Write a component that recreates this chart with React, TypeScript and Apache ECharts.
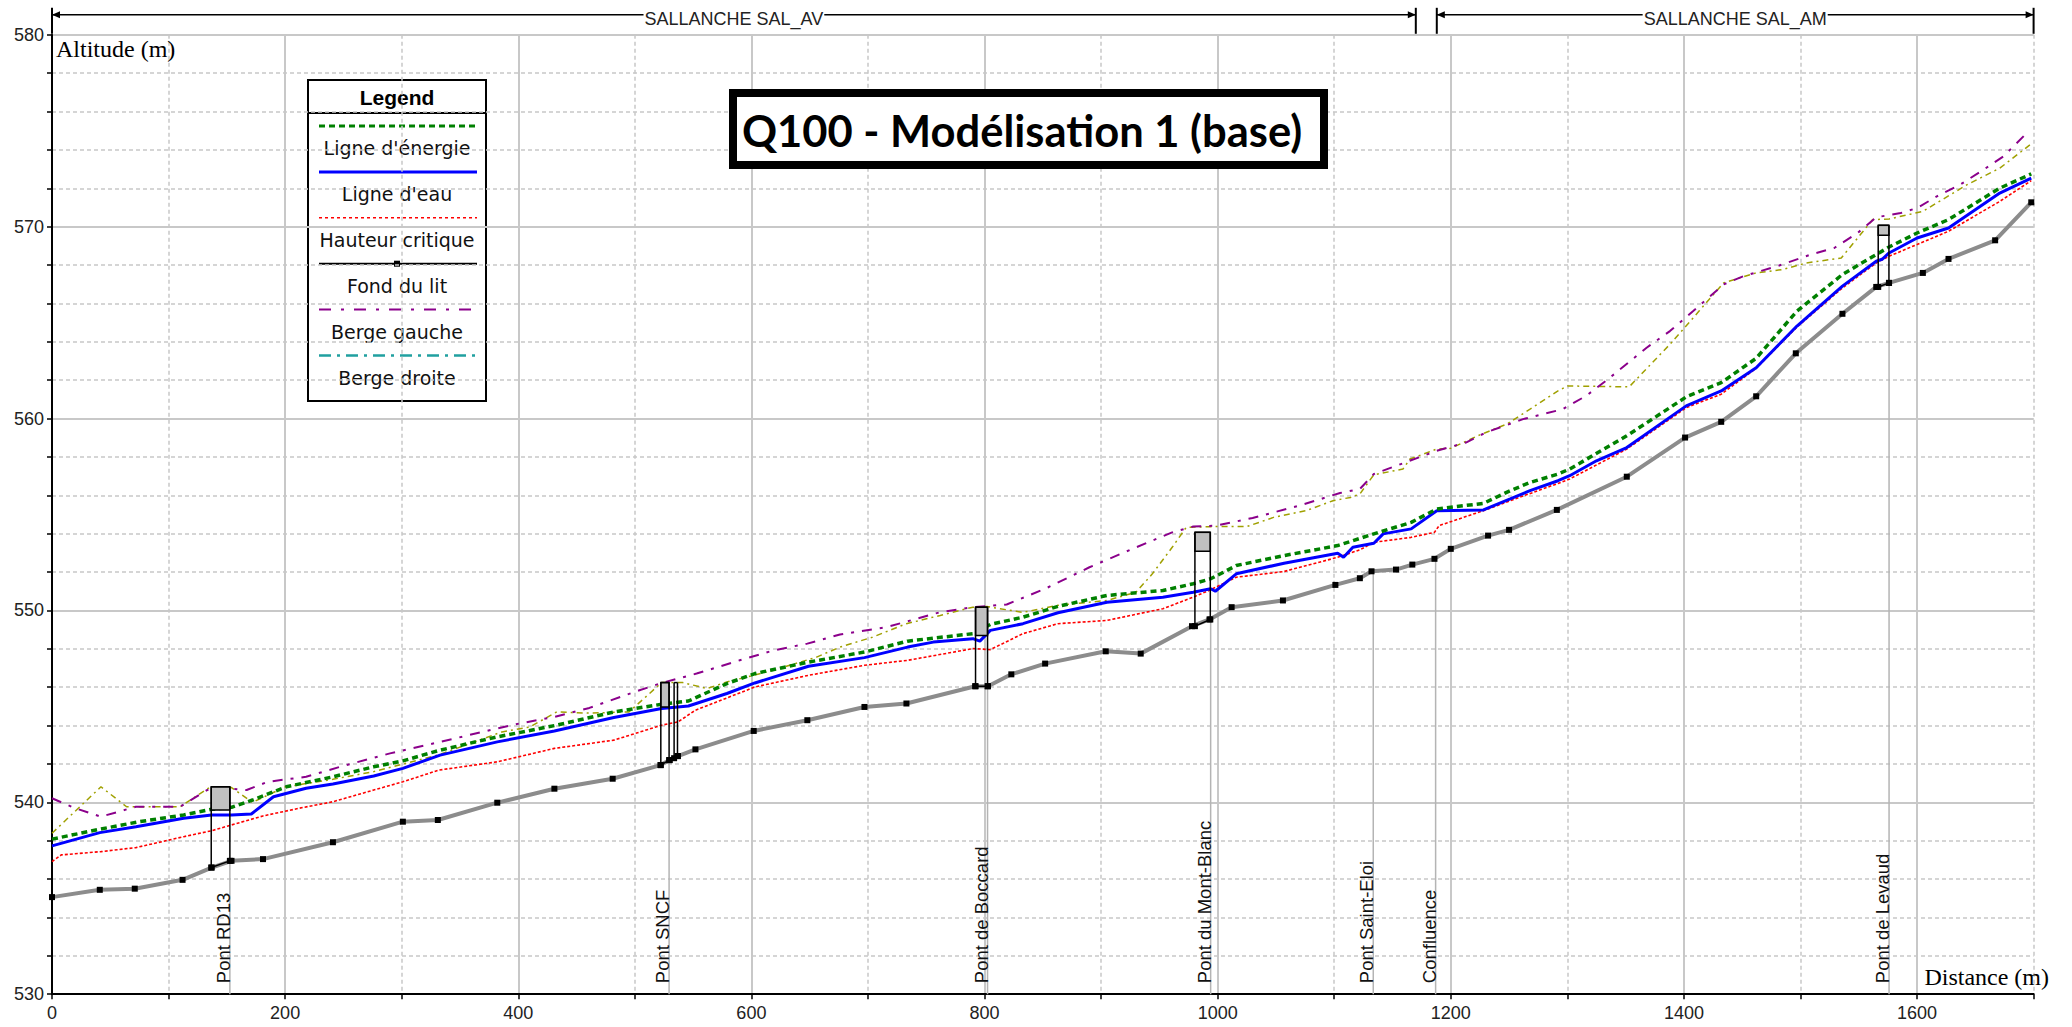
import React, { useEffect, useRef } from "react";
import * as echarts from "echarts";

// ---------- data (distance m, altitude m) ----------
const ligneEnergie: number[][] = [
  [0, 538.08], [41, 538.6], [75, 538.99], [113, 539.34], [137, 539.64], [154, 539.74], [172, 540.12],
  [201, 540.81], [241, 541.33], [276, 541.85], [301, 542.16], [333, 542.72], [382, 543.41], [433, 544.02],
  [482, 544.71], [523, 545.11], [546, 545.28], [579, 546.19], [603, 546.71], [649, 547.31], [697, 547.83],
  [734, 548.4], [790, 548.79], [805, 549.27], [833, 549.65], [863, 550.21], [905, 550.78], [953, 551.04],
  [979, 551.39], [994, 551.65], [1016, 552.34], [1057, 552.86], [1103, 553.38], [1134, 553.99],
  [1166, 554.59], [1188, 555.29], [1228, 555.58], [1251, 556.24], [1268, 556.67], [1292, 557.11],
  [1302, 557.37], [1351, 559.1], [1402, 561.13], [1432, 561.87], [1462, 563.14], [1497, 565.6],
  [1536, 567.51], [1565, 568.55], [1576, 568.94], [1600, 569.67], [1627, 570.37], [1671, 572.01],
  [1698, 572.75],
];

const ligneEau: number[][] = [
  [0, 537.73], [41, 538.42], [72, 538.73], [113, 539.17], [137, 539.34], [154, 539.34], [171, 539.39],
  [190, 540.29], [218, 540.73], [241, 540.95], [276, 541.37], [301, 541.77], [333, 542.46], [382, 543.15],
  [431, 543.72], [482, 544.42], [523, 544.89], [546, 545.02], [579, 545.67], [603, 546.22], [649, 547.09],
  [697, 547.54], [734, 548.09], [756, 548.35], [790, 548.53], [796, 548.4], [805, 548.96], [833, 549.31],
  [863, 549.88], [905, 550.43], [953, 550.69], [979, 550.95], [994, 551.13], [998, 551.0], [1016, 551.91],
  [1057, 552.46], [1103, 552.98], [1108, 552.77], [1116, 553.29], [1134, 553.5], [1142, 553.99],
  [1166, 554.25], [1188, 555.2], [1228, 555.24], [1251, 555.81], [1268, 556.24], [1292, 556.76],
  [1302, 557.02], [1325, 557.8], [1351, 558.49], [1402, 560.66], [1432, 561.44], [1462, 562.65],
  [1497, 564.82], [1536, 566.9], [1565, 568.2], [1570, 568.3], [1576, 568.63], [1600, 569.41],
  [1627, 569.93], [1671, 571.75], [1698, 572.53],
];

const hauteurCritique: number[][] = [
  [0, 536.91], [8, 537.26], [42, 537.43], [72, 537.64], [113, 538.21], [137, 538.52], [154, 538.82],
  [181, 539.29], [212, 539.69], [241, 540.03], [276, 540.64], [301, 541.07], [332, 541.68], [382, 542.11],
  [431, 542.81], [482, 543.24], [523, 544.02], [537, 544.19], [552, 544.8], [603, 546.01], [649, 546.62],
  [697, 547.14], [734, 547.4], [790, 548.01], [805, 547.96], [833, 548.79], [863, 549.31], [905, 549.48],
  [953, 550.09], [979, 550.69], [994, 551.08], [1016, 551.73], [1057, 552.03], [1103, 552.77],
  [1122, 553.16], [1134, 553.55], [1166, 553.81], [1186, 554.07], [1190, 554.42], [1228, 555.2],
  [1251, 555.72], [1292, 556.62], [1302, 556.85], [1351, 558.41], [1402, 560.57], [1432, 561.27],
  [1462, 562.62], [1497, 564.77], [1536, 566.81], [1565, 568.11], [1576, 568.46], [1600, 569.07],
  [1627, 569.76], [1671, 571.32], [1698, 572.4],
];

const fondDuLit: number[][] = [
  [0, 535.06], [41, 535.44], [71, 535.5], [112, 535.96], [137, 536.6], [154, 536.95], [181, 537.04],
  [241, 537.92], [301, 538.99], [331, 539.08], [382, 539.98], [431, 540.71], [481, 541.23], [522, 541.94],
  [530, 542.2], [537, 542.41], [552, 542.76], [602, 543.72], [648, 544.28], [697, 544.97], [733, 545.15],
  [792, 546.05], [803, 546.05], [823, 546.67], [852, 547.23], [904, 547.87], [934, 547.75], [978, 549.18],
  [993, 549.53], [1012, 550.17], [1056, 550.52], [1101, 551.33], [1122, 551.68], [1132, 552.04],
  [1153, 552.13], [1167, 552.39], [1186, 552.69], [1200, 553.21], [1232, 553.9], [1250, 554.2],
  [1291, 555.24], [1351, 556.97], [1401, 559.01], [1432, 559.83], [1462, 561.16], [1496, 563.4],
  [1536, 565.46], [1565, 566.86], [1576, 567.07], [1605, 567.59], [1627, 568.32], [1667, 569.29],
  [1698, 571.27],
];

const bergeGauche: number[][] = [
  [0, 540.21], [20, 539.69], [42, 539.25], [72, 539.77], [110, 539.77], [133, 540.64], [150, 540.73],
  [167, 540.64], [185, 541.07], [218, 541.33], [247, 541.85], [290, 542.55], [333, 543.15], [396, 544.05],
  [431, 544.45], [461, 544.92], [504, 545.84], [523, 546.22], [553, 546.71], [590, 547.4], [619, 547.92],
  [648, 548.27], [676, 548.75], [716, 549.13], [762, 549.91], [790, 550.17], [819, 550.31], [852, 551.13],
  [890, 552.25], [927, 553.21], [961, 554.07], [979, 554.37], [999, 554.42], [1030, 554.82], [1070, 555.46],
  [1105, 556.12], [1122, 556.33], [1134, 557.11], [1155, 557.58], [1188, 558.32], [1213, 558.75],
  [1230, 559.27], [1262, 559.97], [1296, 560.49], [1316, 561.18], [1333, 561.96], [1368, 563.69],
  [1388, 564.56], [1408, 565.6], [1434, 566.99], [1451, 567.42], [1480, 567.94], [1509, 568.55],
  [1529, 568.89], [1549, 569.67], [1565, 570.49], [1586, 570.71], [1600, 570.97], [1617, 571.58],
  [1637, 572.19], [1657, 572.97], [1674, 573.66], [1694, 574.87],
];

const bergeDroite: number[][] = [
  [0, 538.39], [42, 540.81], [64, 539.77], [110, 539.77], [136, 540.81], [154, 540.77], [172, 540.0],
  [200, 540.8], [241, 541.2], [276, 541.6], [333, 542.5], [386, 543.67], [410, 543.93], [433, 544.71],
  [460, 544.65], [495, 544.71], [523, 546.24], [541, 546.24], [562, 545.93], [579, 546.27], [620, 546.9],
  [656, 547.57], [676, 548.09], [704, 548.61], [733, 549.31], [762, 549.74], [790, 550.17], [802, 550.2],
  [833, 549.9], [862, 550.26], [905, 550.52], [930, 550.95], [944, 551.91], [961, 553.29], [973, 554.33],
  [999, 554.37], [1025, 554.37], [1048, 554.85], [1076, 555.2], [1099, 555.72], [1114, 555.89],
  [1122, 556.07], [1134, 557.07], [1159, 557.37], [1165, 557.89], [1188, 558.41], [1200, 558.45],
  [1225, 559.15], [1248, 559.71], [1268, 560.49], [1292, 561.44], [1300, 561.7], [1353, 561.65],
  [1388, 563.87], [1413, 565.6], [1434, 567.07], [1462, 567.59], [1485, 567.77], [1505, 568.11],
  [1535, 568.37], [1562, 570.37], [1576, 570.4], [1605, 570.8], [1643, 572.19], [1671, 573.05],
  [1697, 574.27],
];

// bridges: [x left, x right, bed left, bed right, deck top, deck bottom]
const bridges: number[][] = [
  [136.6, 152.6, 536.6, 536.95, 540.81, 539.6],
  [522.3, 529.4, 541.94, 542.2, 546.24, 544.97],
  [533.7, 536.6, 542.3, 542.41, 546.24, 546.24],
  [792.3, 802.6, 546.05, 546.05, 550.17, 548.7],
  [980.5, 993.7, 549.18, 549.53, 554.07, 553.08],
  [1566.7, 1575.9, 566.86, 567.07, 570.07, 569.55],
];

// profile markers: [distance, bed altitude]
const markerNames = ["Pont RD13", "Pont SNCF", "Pont de Boccard", "Pont du Mont-Blanc", "Pont Saint-Eloi", "Confluence", "Pont de Levaud"];
const markerPos: number[][] = [
  [152.6, 536.95], [529.4, 542.2], [802.6, 546.05], [994, 549.53], [1133.5, 552.04], [1187, 552.69], [1576, 567.07],
];

// reaches: [start, end]
const sectionNames = ["SALLANCHE SAL_AV", "SALLANCHE SAL_AM"];
const sectionPos: number[][] = [[0, 1170], [1188, 1700]];

const legendNames = ["Ligne d'énergie", "Ligne d'eau", "Hauteur critique", "Fond du lit", "Berge gauche", "Berge droite"];

const SANS = '"Liberation Sans", Arial, sans-serif';
const SERIF = '"Liberation Serif", "Times New Roman", serif';

export default function App() {
  const ref = useRef<HTMLDivElement>(null);

  useEffect(() => {
    if (!ref.current) return;
    const chart = echarts.init(ref.current, undefined, { renderer: "svg" });

    const legendStyles = [
      { stroke: "#008000", lineWidth: 3, lineDash: [6, 4] },
      { stroke: "#0000ff", lineWidth: 3, lineDash: null },
      { stroke: "#ff0000", lineWidth: 1.5, lineDash: [3, 3] },
      { stroke: "#000000", lineWidth: 2, lineDash: null },
      { stroke: "#8b008b", lineWidth: 2, lineDash: [12, 10, 3, 10] },
      { stroke: "#20a0a0", lineWidth: 2.5, lineDash: [12, 6, 3, 6] },
    ];
    const LX = 308, LY = 80, LW = 178, LH = 321;
    const legendChildren: any[] = [
      { type: "rect", shape: { x: LX, y: LY, width: LW, height: LH }, style: { fill: "#fff", stroke: "#000", lineWidth: 2 } },
      { type: "line", shape: { x1: LX, y1: 113, x2: LX + LW, y2: 113 }, style: { stroke: "#000", lineWidth: 2 } },
      { type: "text", x: LX + LW / 2, y: 97, style: { text: "Legend", font: `bold 21px ${SANS}`, fill: "#000", align: "center", verticalAlign: "middle" } },
    ];
    legendNames.forEach((n, i) => {
      const ly = 126 + i * 45.9;
      const st = legendStyles[i];
      legendChildren.push({ type: "line", shape: { x1: 319, y1: ly, x2: 477, y2: ly }, style: { ...st } });
      if (i === 3) legendChildren.push({ type: "rect", shape: { x: 394, y: ly - 3, width: 6, height: 6 }, style: { fill: "#000" } });
      legendChildren.push({ type: "text", x: LX + LW / 2, y: ly + 22, style: { text: n, font: `19px "DejaVu Sans", sans-serif`, fill: "#111", align: "center", verticalAlign: "middle" } });
    });

    const option: any = {
      animation: false,
      backgroundColor: "#ffffff",
      grid: { left: 52, right: 38.4, top: 34.8, bottom: 32.8, containLabel: false, outerBoundsMode: "none" },
      xAxis: [
        {
          type: "value", min: 0, max: 1700, interval: 100,
          axisLine: { show: true, onZero: false, lineStyle: { color: "#000", width: 2 } },
          axisTick: { show: true, length: 5, lineStyle: { color: "#000", width: 1.5 } },
          axisLabel: { show: false },
          splitLine: { show: true, lineStyle: { color: "#c8c8c8", width: 1.5, type: [4, 3] } },
        },
        {
          type: "value", min: 0, max: 1700, interval: 200, position: "bottom",
          axisLine: { show: false }, axisTick: { show: false },
          axisLabel: { show: true, margin: 10, fontSize: 18, fontFamily: SANS, color: "#222", showMaxLabel: false, formatter: (v: number) => String(v) },
          splitLine: { show: true, showMaxLine: false, lineStyle: { color: "#c8c8c8", width: 2 } },
        },
      ],
      yAxis: [
        {
          type: "value", min: 530, max: 580, interval: 2,
          axisLine: { show: true, onZero: false, lineStyle: { color: "#000", width: 2 } },
          axisTick: { show: true, length: 5, lineStyle: { color: "#000", width: 1.5 } },
          axisLabel: { show: false },
          splitLine: { show: true, lineStyle: { color: "#c8c8c8", width: 1.5, type: [4, 3] } },
        },
        {
          type: "value", min: 530, max: 580, interval: 10, position: "left",
          axisLine: { show: false }, axisTick: { show: false },
          axisLabel: { show: true, margin: 8, fontSize: 18, fontFamily: SANS, color: "#222", formatter: (v: number) => String(v) },
          splitLine: { show: true, lineStyle: { color: "#c8c8c8", width: 2 } },
        },
      ],
      series: [
        {
          type: "line", name: "Fond du lit", data: fondDuLit, xAxisIndex: 0, yAxisIndex: 0,
          showSymbol: true, symbol: "rect", symbolSize: 6, itemStyle: { color: "#000" },
          lineStyle: { color: "#8c8c8c", width: 4 }, z: 2,
        },
        {
          type: "line", name: "Berge droite", data: bergeDroite, xAxisIndex: 0, yAxisIndex: 0, showSymbol: false,
          lineStyle: { color: "#a0a000", width: 1.5, type: [6, 4, 2, 4] }, z: 3,
        },
        {
          type: "line", name: "Berge gauche", data: bergeGauche, xAxisIndex: 0, yAxisIndex: 0, showSymbol: false,
          lineStyle: { color: "#8b008b", width: 2, type: [10, 8, 3, 8] }, z: 3,
        },
        {
          type: "line", name: "Hauteur critique", data: hauteurCritique, xAxisIndex: 0, yAxisIndex: 0, showSymbol: false,
          lineStyle: { color: "#ff0000", width: 1.6, type: [3, 2] }, z: 4,
        },
        {
          type: "line", name: "Ligne d'eau", data: ligneEau, xAxisIndex: 0, yAxisIndex: 0, showSymbol: false,
          lineStyle: { color: "#0000ff", width: 3 }, z: 5,
        },
        {
          type: "line", name: "Ligne d'énergie", data: ligneEnergie, xAxisIndex: 0, yAxisIndex: 0, showSymbol: false,
          lineStyle: { color: "#008000", width: 3.5, type: [6, 4] }, z: 6,
        },
        {
          type: "custom", name: "Ponts", coordinateSystem: "cartesian2d", xAxisIndex: 0, yAxisIndex: 0, clip: false, z: 7,
          data: bridges,
          renderItem: (params: any, api: any) => {
            const x1 = api.value(0), x2 = api.value(1), b1 = api.value(2), b2 = api.value(3), top = api.value(4), deck = api.value(5);
            const tl = api.coord([x1, top]), tr = api.coord([x2, top]);
            const bl = api.coord([x1, b1]), br = api.coord([x2, b2]);
            const dk = api.coord([x1, deck]);
            const s = { stroke: "#000", lineWidth: 1.5 };
            const children: any[] = [];
            if (dk[1] - tl[1] > 0.5) {
              children.push({ type: "rect", shape: { x: tl[0], y: tl[1], width: tr[0] - tl[0], height: dk[1] - tl[1] }, style: { fill: "#c0c0c0", stroke: "#000", lineWidth: 1.5 } });
            }
            children.push({ type: "line", shape: { x1: tl[0], y1: tl[1], x2: bl[0], y2: bl[1] }, style: s });
            children.push({ type: "line", shape: { x1: tr[0], y1: tr[1], x2: br[0], y2: br[1] }, style: s });
            children.push({ type: "line", shape: { x1: tl[0], y1: tl[1], x2: tr[0], y2: tr[1] }, style: s });
            children.push({ type: "line", shape: { x1: bl[0], y1: bl[1], x2: br[0], y2: br[1] }, style: s });
            children.push({ type: "rect", shape: { x: bl[0] - 3, y: bl[1] - 3, width: 6, height: 6 }, style: { fill: "#000" } });
            children.push({ type: "rect", shape: { x: br[0] - 3, y: br[1] - 3, width: 6, height: 6 }, style: { fill: "#000" } });
            return { type: "group", children };
          },
        },
        {
          type: "custom", name: "Repères", coordinateSystem: "cartesian2d", xAxisIndex: 0, yAxisIndex: 0, clip: false, z: 1,
          data: markerPos,
          renderItem: (params: any, api: any) => {
            const x = api.value(0), yb = api.value(1);
            const pb = api.coord([x, 530]);
            const pt = api.coord([x, yb]);
            return {
              type: "group",
              children: [
                { type: "line", shape: { x1: pb[0], y1: pb[1], x2: pt[0], y2: pt[1] }, style: { stroke: "#b4b4b4", lineWidth: 1.5 } },
                {
                  type: "text", x: pb[0] + 3, y: pb[1] - 11, rotation: Math.PI / 2,
                  style: { text: markerNames[params.dataIndex], font: `18.5px ${SANS}`, fill: "#111", align: "left", verticalAlign: "bottom" },
                },
              ],
            };
          },
        },
        {
          type: "custom", name: "Biefs", coordinateSystem: "cartesian2d", xAxisIndex: 0, yAxisIndex: 0, clip: false, z: 8,
          data: sectionPos,
          renderItem: (params: any, api: any) => {
            const p1 = api.coord([api.value(0), 580]);
            const p2 = api.coord([api.value(1), 580]);
            const yl = p1[1] - 20, yt = p1[1] - 27, yb = p1[1] - 1;
            const s = { stroke: "#000", lineWidth: 1.5 };
            return {
              type: "group",
              children: [
                { type: "line", shape: { x1: p1[0], y1: yl, x2: p2[0], y2: yl }, style: s },
                { type: "line", shape: { x1: p1[0], y1: yt, x2: p1[0], y2: yb }, style: { stroke: "#000", lineWidth: 2 } },
                { type: "line", shape: { x1: p2[0], y1: yt, x2: p2[0], y2: yb }, style: { stroke: "#000", lineWidth: 2 } },
                { type: "polygon", shape: { points: [[p1[0], yl], [p1[0] + 8, yl - 3.5], [p1[0] + 8, yl + 3.5]] }, style: { fill: "#000" } },
                { type: "polygon", shape: { points: [[p2[0], yl], [p2[0] - 8, yl - 3.5], [p2[0] - 8, yl + 3.5]] }, style: { fill: "#000" } },
                {
                  type: "text", x: (p1[0] + p2[0]) / 2, y: yl + 4,
                  style: { text: sectionNames[params.dataIndex], font: `18px ${SANS}`, fill: "#222", align: "center", verticalAlign: "middle", backgroundColor: "#fff", padding: [0, 1] },
                },
              ],
            };
          },
        },
      ],
      graphic: [
        { type: "text", x: 56, y: 37, z: 50, style: { text: "Altitude (m)", font: `24px ${SERIF}`, fill: "#000", align: "left", verticalAlign: "top" } },
        { type: "text", x: 2049, y: 989, z: 50, style: { text: "Distance (m)", font: `24px ${SERIF}`, fill: "#000", align: "right", verticalAlign: "bottom" } },
        { type: "group", z: 60, children: legendChildren },
        { type: "rect", z: 60, shape: { x: 733, y: 93, width: 591, height: 72 }, style: { fill: "#fff", stroke: "#000", lineWidth: 8 } },
        { type: "text", z: 61, x: 1022, y: 130, style: { text: "Q100 - Modélisation 1 (base)", font: `bold 43.5px Lato, sans-serif`, fill: "#000", align: "center", verticalAlign: "middle" } },
      ],
    };

    chart.setOption(option);
    return () => chart.dispose();
  }, []);

  return <div ref={ref} style={{ position: "fixed", left: 0, top: 0, width: 2072, height: 1027, background: "#fff" }} />;
}
